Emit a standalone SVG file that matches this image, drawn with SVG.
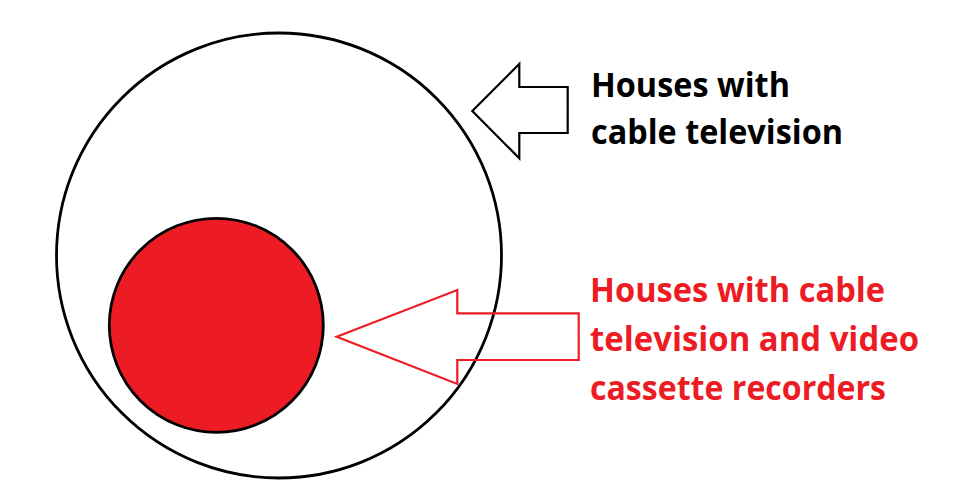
<svg xmlns="http://www.w3.org/2000/svg" width="977" height="502" viewBox="0 0 977 502">
<style>
.lbl{font-family:"Open Sans","Noto Sans","Liberation Sans",sans-serif;font-weight:700;font-size:34px}
.blk{fill:#000}
.red{fill:#ED1C24}
.ring{stroke:#000;stroke-width:2.8}
.arr{fill:#fff;stroke-width:2.2;stroke-linejoin:miter}
</style>
<rect width="977" height="502" fill="#fff"/>
<g id="cable-houses">
<circle class="ring" cx="279" cy="255.5" r="222.5" fill="#fff"/>
</g>
<g id="cable-vcr-houses">
<circle class="ring" cx="216.3" cy="325.3" r="107" fill="#ED1C24"/>
</g>
<g id="connectors">
<polygon class="arr" stroke="#000" points="472.3,111 519.3,64 519.3,87 567.7,87 567.7,133 519.3,133 519.3,158.3"/>
<polygon class="arr" stroke="#ED1C24" style="fill:none" points="336.7,336.7 457.3,290 457.3,313.3 578.7,313.3 578.7,360 457.3,360 457.3,384"/>
</g>
<g id="label-cable">
<text class="lbl blk" x="591" y="97" textLength="199" lengthAdjust="spacingAndGlyphs">Houses with</text>
<text class="lbl blk" x="591" y="144" textLength="252" lengthAdjust="spacingAndGlyphs">cable television</text>
</g>
<g id="label-cable-vcr">
<text class="lbl red" x="590" y="302" textLength="295" lengthAdjust="spacingAndGlyphs">Houses with cable</text>
<text class="lbl red" x="590" y="351" textLength="329" lengthAdjust="spacingAndGlyphs">television and video</text>
<text class="lbl red" x="590" y="400" textLength="296" lengthAdjust="spacingAndGlyphs">cassette recorders</text>
</g>
</svg>
